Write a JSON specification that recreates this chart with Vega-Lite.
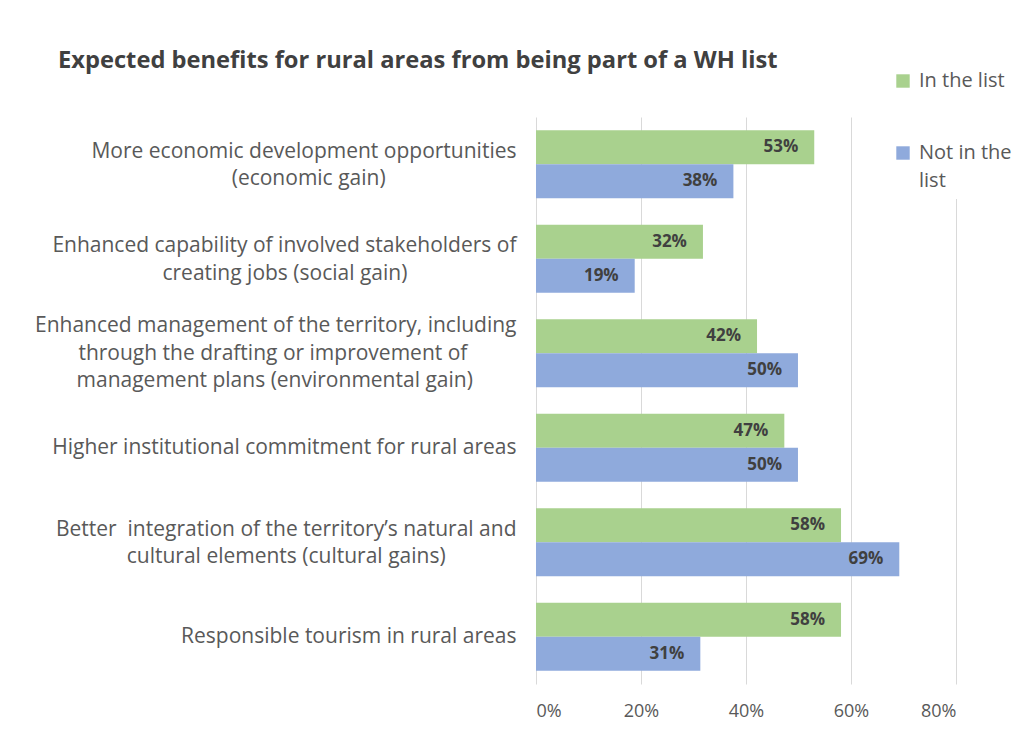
{
  "$schema": "https://vega.github.io/schema/vega-lite/v6.json",
  "width": 420,
  "height": 567,
  "autosize": {"type": "none"},
  "padding": {"left": 536, "top": 117, "right": 68, "bottom": 51},
  "background": "white",
  "title": {
    "text": "Expected benefits for rural areas from being part of a WH list",
    "anchor": "start",
    "frame": "group",
    "dx": -478,
    "offset": -10,
    "font": "Open Sans",
    "fontSize": 23.7,
    "fontWeight": "bold",
    "color": "#404040"
  },
  "config": {
    "view": {"stroke": null},
    "font": "Open Sans"
  },
  "data": {
    "values": [
      {"benefit": "More economic development opportunities|(economic gain)", "group": "In the list", "share": 0.53},
      {"benefit": "More economic development opportunities|(economic gain)", "group": "Not in the list", "share": 0.376},
      {"benefit": "Enhanced capability of involved stakeholders of|creating jobs (social gain)", "group": "In the list", "share": 0.318},
      {"benefit": "Enhanced capability of involved stakeholders of|creating jobs (social gain)", "group": "Not in the list", "share": 0.188},
      {"benefit": "Enhanced management of the territory, including|through the drafting or improvement of|management plans (environmental gain)", "group": "In the list", "share": 0.421},
      {"benefit": "Enhanced management of the territory, including|through the drafting or improvement of|management plans (environmental gain)", "group": "Not in the list", "share": 0.499},
      {"benefit": "Higher institutional commitment for rural areas", "group": "In the list", "share": 0.473},
      {"benefit": "Higher institutional commitment for rural areas", "group": "Not in the list", "share": 0.499},
      {"benefit": "Better\u00a0 integration of the territory’s natural and|cultural elements (cultural gains)", "group": "In the list", "share": 0.581},
      {"benefit": "Better\u00a0 integration of the territory’s natural and|cultural elements (cultural gains)", "group": "Not in the list", "share": 0.692},
      {"benefit": "Responsible tourism in rural areas", "group": "In the list", "share": 0.581},
      {"benefit": "Responsible tourism in rural areas", "group": "Not in the list", "share": 0.313}
    ]
  },
  "encoding": {
    "y": {
      "field": "benefit",
      "type": "nominal",
      "sort": null,
      "title": null,
      "scale": {"paddingInner": 0.28, "paddingOuter": 0.14},
      "axis": {
        "domain": false,
        "ticks": false,
        "tickSize": 0,
        "grid": false,
        "labelPadding": 20,
        "labelLimit": 1000,
        "labelFont": "Open Sans",
        "labelFontSize": 21,
        "labelColor": "#595959",
        "labelLineHeight": 27.5,
        "labelAlign": "right",
        "labelBaseline": "middle",
        "labelOffset": {
          "condition": [
            {"test": "length(split(datum.label,'|')) == 3", "value": -27},
            {"test": "length(split(datum.label,'|')) == 2", "value": -12.5}
          ],
          "value": 0
        },
        "labelExpr": "length(split(datum.label,'|')) == 1 ? datum.label : length(split(datum.label,'|')) == 2 ? [split(datum.label,'|')[0], pad(split(datum.label,'|')[1], length(split(datum.label,'|')[0]) - (length(split(datum.label,'|')[0]) > 48 ? 3 : 0), '\u00a0') + '\u2060'] : [split(datum.label,'|')[0], pad(split(datum.label,'|')[1], length(split(datum.label,'|')[0]), '\u00a0') + '\u2060', pad(split(datum.label,'|')[2], length(split(datum.label,'|')[0]) - 2, '\u00a0') + '\u2060']"
      }
    },
    "yOffset": {
      "field": "group",
      "type": "nominal",
      "sort": ["In the list", "Not in the list"],
      "scale": {"paddingInner": 0, "paddingOuter": 0}
    },
    "x": {
      "field": "share",
      "type": "quantitative",
      "title": null,
      "scale": {"domain": [0, 0.8]},
      "axis": {
        "format": ".0%",
        "values": [0, 0.2, 0.4, 0.6, 0.8],
        "grid": true,
        "gridColor": "#D9D9D9",
        "gridWidth": 1,
        "domain": false,
        "ticks": false,
        "tickSize": 0,
        "labelPadding": 18,
        "labelFont": "Open Sans",
        "labelFontSize": 18,
        "labelColor": "#595959"
      }
    }
  },
  "layer": [
    {
      "mark": {"type": "bar"},
      "encoding": {
        "color": {
          "field": "group",
          "type": "nominal",
          "scale": {"domain": ["In the list", "Not in the list"], "range": ["#A9D18E", "#8FAADC"]},
          "legend": {
            "title": null,
            "orient": "none",
            "legendX": 349,
            "legendY": -54,
            "fillColor": "white",
            "padding": 8,
            "symbolType": "square",
            "symbolSize": 180,
            "symbolStrokeWidth": 0,
            "labelFont": "Open Sans",
            "labelFontSize": 20,
            "labelColor": "#595959",
            "labelLimit": 300,
            "rowPadding": 52,
            "labelOffset": 6,
            "labelExpr": "datum.label == 'Not in the list' ? ['Not in the', 'list'] : datum.label",
            "encode": {"labels": {"update": {"lineHeight": {"value": 28}}}}
          }
        }
      }
    },
    {
      "mark": {
        "type": "text",
        "align": "right",
        "baseline": "middle",
        "dx": -16,
        "font": "Open Sans",
        "fontSize": 17,
        "fontWeight": "bold",
        "color": "#404040"
      },
      "encoding": {
        "text": {"field": "share", "type": "quantitative", "format": ".0%"}
      }
    }
  ]
}
